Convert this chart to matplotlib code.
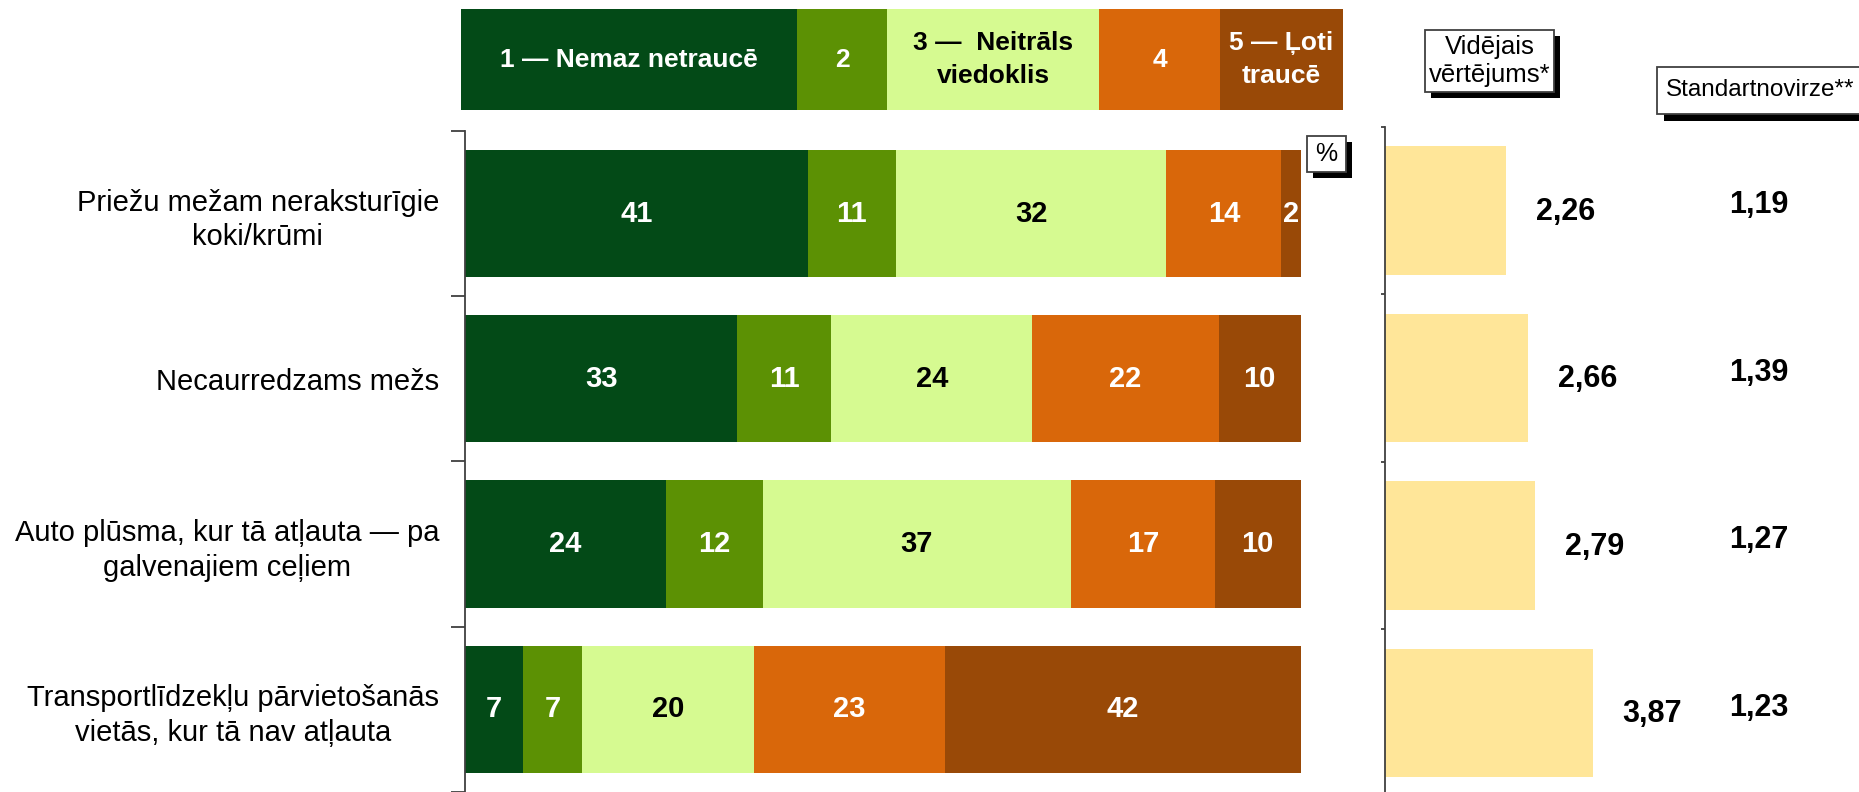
import matplotlib
matplotlib.use("Agg")
import matplotlib.pyplot as plt
from matplotlib.patches import Rectangle
import matplotlib.transforms as mtransforms

plt.rcParams['font.family'] = ['Liberation Sans', 'DejaVu Sans']

# dati
kategorijas = ['Priežu mežam nerakstur\u012bgie\nkoki/krūmi',
               'Necaurredzams mežs',
               'Auto plūsma, kur tā atļauta — pa\ngalvenajiem ceļiem',
               'Transportlīdzekļu pārvietošanās\nvietās, kur tā nav atļauta']
vertejumi = ['1 — Nemaz netraucē', '2', '3 —  Neitrāls\nviedoklis', '4', '5 — Ļoti\ntraucē']
# segmentu platumi (%), nolasīti no attēla
v1 = [41.0, 32.6, 24.0, 6.95]
v2 = [10.6, 11.2, 11.6, 7.1]
v3 = [32.3, 24.1, 36.9, 20.55]
v4 = [13.8, 22.3, 17.2, 22.85]
v5 = [2.3, 9.8, 10.3, 42.55]
# uzraksti uz stabiņiem
l1 = [41, 33, 24, 7]
l2 = [11, 11, 12, 7]
l3 = [32, 24, 37, 20]
l4 = [14, 22, 17, 23]
l5 = [2, 10, 10, 42]
videjais = [2.26, 2.66, 2.79, 3.87]
standartnovirze = [1.19, 1.39, 1.27, 1.23]

krasas = ['#034A17', '#5C9104', '#D6FA91', '#D9670A', '#994907']
teksta_krasas = ['white', 'white', 'black', 'white', 'white']
dzeltena = '#FFE699'

W, H = 1859, 792
fig = plt.figure(figsize=(W / 100, H / 100), dpi=100)


def rect(x0, y0, x1, y1):
    return [x0 / W, 1 - y1 / H, (x1 - x0) / W, (y1 - y0) / H]


ax = fig.add_axes(rect(465, 131, 1300.7, 131 + 4 * 165.2))
ax2 = fig.add_axes(rect(1384.5, 126.75, 1384.5 + 5 * 53.8, 126.75 + 4 * 167.5))
axl = fig.add_axes(rect(461, 9.5, 1343, 110))

# galvenie stabiņi
vertibas = [v1, v2, v3, v4, v5]
uzraksti = [l1, l2, l3, l4, l5]
for i in range(len(kategorijas)):
    left = 0
    for j in range(5):
        w = vertibas[j][i]
        ax.barh(i, w, left=left, height=0.77, color=krasas[j], edgecolor='none')
        ax.text(left + w / 2, i, str(uzraksti[j][i]), ha='center', va='center',
                color=teksta_krasas[j], fontsize=21, fontweight='bold')
        left += w

ax.set_xlim(0, 100)
ax.set_ylim(3.5, -0.5)
for s in ['top', 'right', 'bottom']:
    ax.spines[s].set_visible(False)
ax.spines['left'].set_color('#404040')
ax.spines['left'].set_linewidth(1.3)
ax.set_xticks([])
ax.set_yticks([-0.5, 0.5, 1.5, 2.5, 3.5])
ax.set_yticklabels([])
ax.tick_params(axis='y', which='major', length=10, color='#404040', width=1.3)
ax.set_yticks(range(len(kategorijas)), minor=True)
ax.set_yticklabels(kategorijas, minor=True, fontsize=21, multialignment='center',
                   linespacing=1.3)
ax.tick_params(axis='y', which='minor', length=0, pad=18.7)

# vidējais vērtējums
ax2.barh(range(len(videjais)), videjais, height=0.77, color=dzeltena, edgecolor='none')
for i, v in enumerate(videjais):
    ax2.annotate(f'{v:.2f}'.replace('.', ','), (v, i), xytext=(21.6, -1),
                 textcoords='offset points', ha='left', va='center',
                 fontsize=22, fontweight='bold')
ax2.set_xlim(0, 5)
ax2.set_ylim(3.5, -0.5)
for s in ['top', 'right', 'bottom']:
    ax2.spines[s].set_visible(False)
ax2.spines['left'].set_color('#404040')
ax2.spines['left'].set_linewidth(1.3)
ax2.set_xticks([])
ax2.set_yticks([-0.5, 0.5, 1.5, 2.5, 3.5])
ax2.set_yticklabels([])
ax2.tick_params(axis='y', length=3, color='#404040', width=1.3)

# standartnovirze
tr = mtransforms.blended_transform_factory(fig.transFigure, ax2.transData)
for i, s in enumerate(standartnovirze):
    fig.text(1759 / W, i - 0.03, f'{s:.2f}'.replace('.', ','), transform=tr,
             ha='center', va='center', fontsize=22, fontweight='bold')

# leģenda
leg_platumi = [336, 90, 212, 121, 123]
left = 0
for j in range(5):
    axl.barh(0, leg_platumi[j], left=left, height=1, color=krasas[j], edgecolor='none')
    axl.text(left + leg_platumi[j] / 2, 0, vertejumi[j], ha='center', va='center',
             color=teksta_krasas[j], fontsize=19, fontweight='bold', linespacing=1.45)
    left += leg_platumi[j]
axl.set_xlim(0, sum(leg_platumi))
axl.set_ylim(-0.5, 0.5)
axl.axis('off')


# rāmīši ar ēnu
def ramitis(x0, y0, x1, y1, teksts, d=6, fs=17.5, tx=None):
    fig.patches.append(Rectangle(((x0 + d) / W, 1 - (y1 + d) / H), (x1 - x0) / W, (y1 - y0) / H,
                                 transform=fig.transFigure, facecolor='black', edgecolor='none'))
    fig.patches.append(Rectangle((x0 / W, 1 - y1 / H), (x1 - x0) / W, (y1 - y0) / H,
                                 transform=fig.transFigure, facecolor='white',
                                 edgecolor='#404040', linewidth=1.3))
    cx = (x0 + x1) / 2 if tx is None else tx
    fig.text(cx / W, 1 - (y0 + y1) / 2 / H, teksts, ha='center', va='center',
             fontsize=fs, linespacing=1.25)


ramitis(1307, 136, 1346, 172, '%', d=6, fs=18)
ramitis(1425, 30, 1554, 92, 'Vidējais\nvērtējums*', d=6, fs=18.5)
ramitis(1657, 67, 1870, 114, 'Standartnovirze**', d=7, tx=1760)

fig.savefig('out.png', dpi=100)
